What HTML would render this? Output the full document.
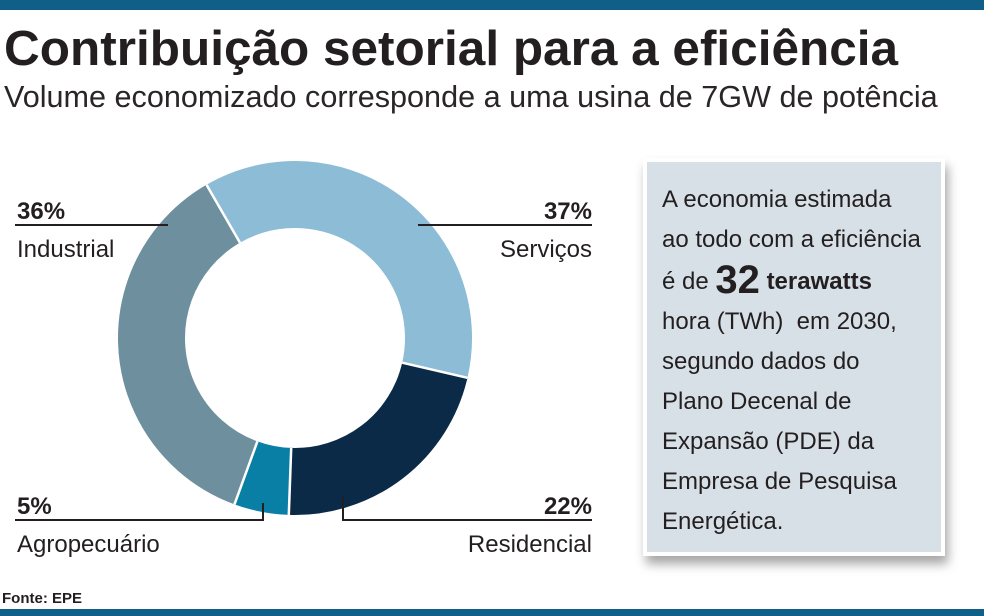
<!DOCTYPE html>
<html><head><meta charset="utf-8"><style>
body{margin:0;width:984px;height:616px;background:#fff;overflow:hidden;position:relative;font-family:"Liberation Sans",sans-serif;color:#231f20}
.bar{position:absolute;left:0;width:984px;background:#0f5f88}
#title{position:absolute;left:4px;top:20px;font-size:49.5px;font-weight:bold;letter-spacing:0px;white-space:nowrap}
#sub{position:absolute;left:4px;top:80px;font-size:30.6px;white-space:nowrap;color:#2a2627}
#box{position:absolute;left:643px;top:158px;width:294px;height:390px;background:#d8e0e7;border:4px solid #fff;box-shadow:3px 8px 10px rgba(0,0,0,.35)}
#box div{position:absolute;left:15px;font-size:24px;white-space:nowrap}
</style></head><body>
<div class="bar" style="top:0;height:10px"></div>
<div class="bar" style="top:609px;height:7px"></div>
<div id="title">Contribuição setorial para a eficiência</div>
<div id="sub">Volume economizado corresponde a uma usina de 7GW de potência</div>
<svg width="984" height="616" style="position:absolute;left:0;top:0">
<g fill="none" stroke-width="67">
<circle cx="295" cy="338" r="143.5" stroke="#8dbcd6" stroke-dasharray="333.1 1000" transform="rotate(240 295 338)"/>
<circle cx="295" cy="338" r="143.5" stroke="#0b2a47" stroke-dasharray="197.9 1000" transform="rotate(13 295 338)"/>
<circle cx="295" cy="338" r="143.5" stroke="#0a7fa5" stroke-dasharray="45.1 1000" transform="rotate(92 295 338)"/>
<circle cx="295" cy="338" r="143.5" stroke="#6e8f9e" stroke-dasharray="325.6 1000" transform="rotate(110 295 338)"/>
</g>
<g stroke="#fff" stroke-width="2.5">
<line x1="206.5" y1="184.7" x2="240" y2="242.7"/>
<line x1="467.4" y1="377.8" x2="402.2" y2="362.7"/>
<line x1="288.8" y1="514.9" x2="291.2" y2="447.9"/>
<line x1="234.5" y1="504.3" x2="257.4" y2="441.4"/>
</g>
<g stroke="#231f20" stroke-width="2" fill="none">
<line x1="15" y1="225" x2="168" y2="225"/>
<line x1="418" y1="225" x2="592" y2="225"/>
<polyline points="15,520 263,520 263,503"/>
<polyline points="343,497 343,520 592,520"/>
</g>
<g font-family="Liberation Sans, sans-serif" fill="#231f20">
<text x="17" y="219" font-size="24" font-weight="bold">36%</text>
<text x="17" y="257" font-size="24">Industrial</text>
<text x="592" y="219" font-size="24" font-weight="bold" text-anchor="end">37%</text>
<text x="592" y="257" font-size="24" text-anchor="end">Serviços</text>
<text x="17" y="514" font-size="24" font-weight="bold">5%</text>
<text x="17" y="552" font-size="24">Agropecuário</text>
<text x="592" y="514" font-size="24" font-weight="bold" text-anchor="end">22%</text>
<text x="592" y="552" font-size="24" text-anchor="end">Residencial</text>
<text x="2" y="603" font-size="15" font-weight="bold">Fonte: EPE</text>
</g>
</svg>
<div id="box">
<div style="top:24px">A economia estimada</div>
<div style="top:64px">ao todo com a eficiência</div>
<div style="top:96px">é de <span style="font-size:40px;font-weight:bold;vertical-align:-4px">32</span> <b>terawatts</b></div>
<div style="top:146px">hora (TWh)&nbsp; em 2030,</div>
<div style="top:186px">segundo dados do</div>
<div style="top:226px">Plano Decenal de</div>
<div style="top:266px">Expansão (PDE) da</div>
<div style="top:306px">Empresa de Pesquisa</div>
<div style="top:346px">Energética.</div>
</div>
</body></html>
